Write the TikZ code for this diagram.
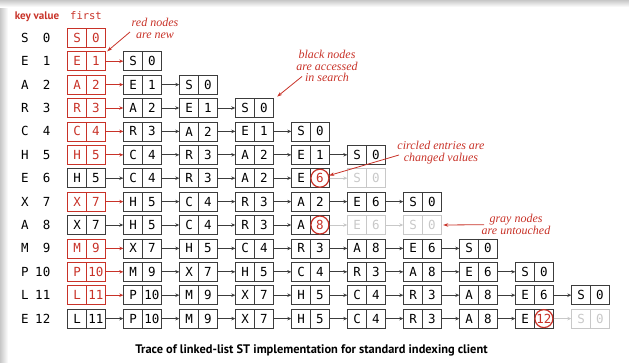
\documentclass[tikz,border=0pt]{standalone}
\usepackage{fontspec}
\usepackage{tikz}
\usetikzlibrary{arrows.meta}
\newfontfamily\boxfont{DejaVu Sans Mono}
\newfontfamily\capfont{PT Sans}
\newfontfamily\notefont{Liberation Serif}
\definecolor{sedred}{RGB}{200,50,40}
\definecolor{nodeblk}{RGB}{60,60,60}
\definecolor{nodegry}{RGB}{200,200,200}
\newcommand{\kv}[2]{\makebox[18.8pt]{#1}\makebox[18.8pt]{#2}}
\tikzset{
  lnode/.style={draw,line width=0.8pt,minimum width=37.6pt,minimum height=19pt,inner sep=0pt,
    font=\boxfont\fontsize{12.5}{14}\selectfont,
    path picture={\draw[line width=0.8pt] (path picture bounding box.north) -- (path picture bounding box.south);}},
  rednd/.style={lnode,color=sedred},
  blknd/.style={lnode,color=nodeblk,text=black},
  grynd/.style={lnode,color=nodegry},
  chg/.style={circle,draw=sedred,fill=white,text=sedred,line width=1.2pt,minimum size=18pt,inner sep=0pt,
    font=\boxfont\fontsize{12.5}{14}\selectfont},
  redarr/.style={draw=sedred,line width=0.8pt,-{Stealth[length=4pt,width=3.5pt]}},
  blkarr/.style={draw=nodeblk,line width=0.8pt,-{Stealth[length=4pt,width=3.5pt]}},
  gryarr/.style={draw=nodegry,line width=0.8pt,-{Stealth[length=4pt,width=3.5pt]}},
  notearr/.style={draw=sedred,line width=0.8pt,-{Stealth[length=5pt,width=3.5pt]}},
  note/.style={text=sedred,font=\notefont\itshape\fontsize{12}{11.8}\selectfont,align=center},
  keyt/.style={inner sep=0pt,font=\boxfont\fontsize{12.5}{14}\selectfont},
  valt/.style={keyt,anchor=east},
  hdr/.style={text=sedred,inner sep=0pt}
}

\begin{document}
\begin{tikzpicture}[x=1pt,y=-1pt]
\useasboundingbox (0,0) rectangle (629,362);
\shade[left color=black!22,right color=white] (0,0) rectangle (8,362);
\shade[top color=black!22,bottom color=white] (0,0) rectangle (629,7);

% headers
\node[hdr,font=\capfont\bfseries\fontsize{11}{12}\selectfont] (hkey) at (37,16.5) {key value};
\node[hdr,font=\boxfont\fontsize{10.5}{12}\selectfont] (hfirst) at (86,16) {first};

% row 0: S 0
\node[keyt] (k0) at (25,37.8) {S}; \node[valt] (v0) at (50.5,37.8) {0};
\node[rednd] (r0c0) at (86.5,37.8) {\kv{S}{0}};

% row 1: E 1
\node[keyt] (k1) at (25,61.2) {E}; \node[valt] (v1) at (50.5,61.2) {1};
\node[rednd] (r1c0) at (86.5,61.2) {\kv{E}{1}};
\node[blknd] (r1c1) at (142.5,61.2) {\kv{S}{0}};
\draw[redarr] (r1c0) -- (r1c1);

% row 2: A 2
\node[keyt] (k2) at (25,84.6) {A}; \node[valt] (v2) at (50.5,84.6) {2};
\node[rednd] (r2c0) at (86.5,84.6) {\kv{A}{2}};
\node[blknd] (r2c1) at (142.5,84.6) {\kv{E}{1}};
\node[blknd] (r2c2) at (198.5,84.6) {\kv{S}{0}};
\draw[redarr] (r2c0) -- (r2c1);
\draw[blkarr] (r2c1) -- (r2c2);

% row 3: R 3
\node[keyt] (k3) at (25,108) {R}; \node[valt] (v3) at (50.5,108) {3};
\node[rednd] (r3c0) at (86.5,108) {\kv{R}{3}};
\node[blknd] (r3c1) at (142.5,108) {\kv{A}{2}};
\node[blknd] (r3c2) at (198.5,108) {\kv{E}{1}};
\node[blknd] (r3c3) at (254.5,108) {\kv{S}{0}};
\draw[redarr] (r3c0) -- (r3c1);
\draw[blkarr] (r3c1) -- (r3c2);
\draw[blkarr] (r3c2) -- (r3c3);

% row 4: C 4
\node[keyt] (k4) at (25,131.4) {C}; \node[valt] (v4) at (50.5,131.4) {4};
\node[rednd] (r4c0) at (86.5,131.4) {\kv{C}{4}};
\node[blknd] (r4c1) at (142.5,131.4) {\kv{R}{3}};
\node[blknd] (r4c2) at (198.5,131.4) {\kv{A}{2}};
\node[blknd] (r4c3) at (254.5,131.4) {\kv{E}{1}};
\node[blknd] (r4c4) at (310.5,131.4) {\kv{S}{0}};
\draw[redarr] (r4c0) -- (r4c1);
\draw[blkarr] (r4c1) -- (r4c2);
\draw[blkarr] (r4c2) -- (r4c3);
\draw[blkarr] (r4c3) -- (r4c4);

% row 5: H 5
\node[keyt] (k5) at (25,154.8) {H}; \node[valt] (v5) at (50.5,154.8) {5};
\node[rednd] (r5c0) at (86.5,154.8) {\kv{H}{5}};
\node[blknd] (r5c1) at (142.5,154.8) {\kv{C}{4}};
\node[blknd] (r5c2) at (198.5,154.8) {\kv{R}{3}};
\node[blknd] (r5c3) at (254.5,154.8) {\kv{A}{2}};
\node[blknd] (r5c4) at (310.5,154.8) {\kv{E}{1}};
\node[blknd] (r5c5) at (366.5,154.8) {\kv{S}{0}};
\draw[redarr] (r5c0) -- (r5c1);
\draw[blkarr] (r5c1) -- (r5c2);
\draw[blkarr] (r5c2) -- (r5c3);
\draw[blkarr] (r5c3) -- (r5c4);
\draw[blkarr] (r5c4) -- (r5c5);

% row 6: E 6
\node[keyt] (k6) at (25,178.2) {E}; \node[valt] (v6) at (50.5,178.2) {6};
\node[blknd] (r6c0) at (86.5,178.2) {\kv{H}{5}};
\node[blknd] (r6c1) at (142.5,178.2) {\kv{C}{4}};
\node[blknd] (r6c2) at (198.5,178.2) {\kv{R}{3}};
\node[blknd] (r6c3) at (254.5,178.2) {\kv{A}{2}};
\node[blknd] (r6c4) at (310.5,178.2) {\kv{E}{}};
\node[grynd] (r6c5) at (366.5,178.2) {\kv{S}{0}};
\node[chg] (c6) at ([xshift=9.4pt]r6c4.center) {6};
\draw[blkarr] (r6c0) -- (r6c1);
\draw[blkarr] (r6c1) -- (r6c2);
\draw[blkarr] (r6c2) -- (r6c3);
\draw[blkarr] (r6c3) -- (r6c4);
\draw[gryarr] (r6c4) -- (r6c5);

% row 7: X 7
\node[keyt] (k7) at (25,201.6) {X}; \node[valt] (v7) at (50.5,201.6) {7};
\node[rednd] (r7c0) at (86.5,201.6) {\kv{X}{7}};
\node[blknd] (r7c1) at (142.5,201.6) {\kv{H}{5}};
\node[blknd] (r7c2) at (198.5,201.6) {\kv{C}{4}};
\node[blknd] (r7c3) at (254.5,201.6) {\kv{R}{3}};
\node[blknd] (r7c4) at (310.5,201.6) {\kv{A}{2}};
\node[blknd] (r7c5) at (366.5,201.6) {\kv{E}{6}};
\node[blknd] (r7c6) at (422.5,201.6) {\kv{S}{0}};
\draw[redarr] (r7c0) -- (r7c1);
\draw[blkarr] (r7c1) -- (r7c2);
\draw[blkarr] (r7c2) -- (r7c3);
\draw[blkarr] (r7c3) -- (r7c4);
\draw[blkarr] (r7c4) -- (r7c5);
\draw[blkarr] (r7c5) -- (r7c6);

% row 8: A 8
\node[keyt] (k8) at (25,225) {A}; \node[valt] (v8) at (50.5,225) {8};
\node[blknd] (r8c0) at (86.5,225) {\kv{X}{7}};
\node[blknd] (r8c1) at (142.5,225) {\kv{H}{5}};
\node[blknd] (r8c2) at (198.5,225) {\kv{C}{4}};
\node[blknd] (r8c3) at (254.5,225) {\kv{R}{3}};
\node[blknd] (r8c4) at (310.5,225) {\kv{A}{}};
\node[grynd] (r8c5) at (366.5,225) {\kv{E}{6}};
\node[grynd] (r8c6) at (422.5,225) {\kv{S}{0}};
\node[chg] (c8) at ([xshift=9.4pt]r8c4.center) {8};
\draw[blkarr] (r8c0) -- (r8c1);
\draw[blkarr] (r8c1) -- (r8c2);
\draw[blkarr] (r8c2) -- (r8c3);
\draw[blkarr] (r8c3) -- (r8c4);
\draw[gryarr] (r8c4) -- (r8c5);
\draw[gryarr] (r8c5) -- (r8c6);

% row 9: M 9
\node[keyt] (k9) at (25,248.4) {M}; \node[valt] (v9) at (50.5,248.4) {9};
\node[rednd] (r9c0) at (86.5,248.4) {\kv{M}{9}};
\node[blknd] (r9c1) at (142.5,248.4) {\kv{X}{7}};
\node[blknd] (r9c2) at (198.5,248.4) {\kv{H}{5}};
\node[blknd] (r9c3) at (254.5,248.4) {\kv{C}{4}};
\node[blknd] (r9c4) at (310.5,248.4) {\kv{R}{3}};
\node[blknd] (r9c5) at (366.5,248.4) {\kv{A}{8}};
\node[blknd] (r9c6) at (422.5,248.4) {\kv{E}{6}};
\node[blknd] (r9c7) at (478.5,248.4) {\kv{S}{0}};
\draw[redarr] (r9c0) -- (r9c1);
\draw[blkarr] (r9c1) -- (r9c2);
\draw[blkarr] (r9c2) -- (r9c3);
\draw[blkarr] (r9c3) -- (r9c4);
\draw[blkarr] (r9c4) -- (r9c5);
\draw[blkarr] (r9c5) -- (r9c6);
\draw[blkarr] (r9c6) -- (r9c7);

% row 10: P 10
\node[keyt] (k10) at (25,271.8) {P}; \node[valt] (v10) at (50.5,271.8) {10};
\node[rednd] (r10c0) at (86.5,271.8) {\kv{P}{10}};
\node[blknd] (r10c1) at (142.5,271.8) {\kv{M}{9}};
\node[blknd] (r10c2) at (198.5,271.8) {\kv{X}{7}};
\node[blknd] (r10c3) at (254.5,271.8) {\kv{H}{5}};
\node[blknd] (r10c4) at (310.5,271.8) {\kv{C}{4}};
\node[blknd] (r10c5) at (366.5,271.8) {\kv{R}{3}};
\node[blknd] (r10c6) at (422.5,271.8) {\kv{A}{8}};
\node[blknd] (r10c7) at (478.5,271.8) {\kv{E}{6}};
\node[blknd] (r10c8) at (534.5,271.8) {\kv{S}{0}};
\draw[redarr] (r10c0) -- (r10c1);
\draw[blkarr] (r10c1) -- (r10c2);
\draw[blkarr] (r10c2) -- (r10c3);
\draw[blkarr] (r10c3) -- (r10c4);
\draw[blkarr] (r10c4) -- (r10c5);
\draw[blkarr] (r10c5) -- (r10c6);
\draw[blkarr] (r10c6) -- (r10c7);
\draw[blkarr] (r10c7) -- (r10c8);

% row 11: L 11
\node[keyt] (k11) at (25,295.2) {L}; \node[valt] (v11) at (50.5,295.2) {11};
\node[rednd] (r11c0) at (86.5,295.2) {\kv{L}{11}};
\node[blknd] (r11c1) at (142.5,295.2) {\kv{P}{10}};
\node[blknd] (r11c2) at (198.5,295.2) {\kv{M}{9}};
\node[blknd] (r11c3) at (254.5,295.2) {\kv{X}{7}};
\node[blknd] (r11c4) at (310.5,295.2) {\kv{H}{5}};
\node[blknd] (r11c5) at (366.5,295.2) {\kv{C}{4}};
\node[blknd] (r11c6) at (422.5,295.2) {\kv{R}{3}};
\node[blknd] (r11c7) at (478.5,295.2) {\kv{A}{8}};
\node[blknd] (r11c8) at (534.5,295.2) {\kv{E}{6}};
\node[blknd] (r11c9) at (590.5,295.2) {\kv{S}{0}};
\draw[redarr] (r11c0) -- (r11c1);
\draw[blkarr] (r11c1) -- (r11c2);
\draw[blkarr] (r11c2) -- (r11c3);
\draw[blkarr] (r11c3) -- (r11c4);
\draw[blkarr] (r11c4) -- (r11c5);
\draw[blkarr] (r11c5) -- (r11c6);
\draw[blkarr] (r11c6) -- (r11c7);
\draw[blkarr] (r11c7) -- (r11c8);
\draw[blkarr] (r11c8) -- (r11c9);

% row 12: E 12
\node[keyt] (k12) at (25,318.6) {E}; \node[valt] (v12) at (50.5,318.6) {12};
\node[blknd] (r12c0) at (86.5,318.6) {\kv{L}{11}};
\node[blknd] (r12c1) at (142.5,318.6) {\kv{P}{10}};
\node[blknd] (r12c2) at (198.5,318.6) {\kv{M}{9}};
\node[blknd] (r12c3) at (254.5,318.6) {\kv{X}{7}};
\node[blknd] (r12c4) at (310.5,318.6) {\kv{H}{5}};
\node[blknd] (r12c5) at (366.5,318.6) {\kv{C}{4}};
\node[blknd] (r12c6) at (422.5,318.6) {\kv{R}{3}};
\node[blknd] (r12c7) at (478.5,318.6) {\kv{A}{8}};
\node[blknd] (r12c8) at (534.5,318.6) {\kv{E}{}};
\node[grynd] (r12c9) at (590.5,318.6) {\kv{S}{0}};
\node[chg] (c12) at ([xshift=9.4pt]r12c8.center) {12};
\draw[blkarr] (r12c0) -- (r12c1);
\draw[blkarr] (r12c1) -- (r12c2);
\draw[blkarr] (r12c2) -- (r12c3);
\draw[blkarr] (r12c3) -- (r12c4);
\draw[blkarr] (r12c4) -- (r12c5);
\draw[blkarr] (r12c5) -- (r12c6);
\draw[blkarr] (r12c6) -- (r12c7);
\draw[blkarr] (r12c7) -- (r12c8);
\draw[gryarr] (r12c8) -- (r12c9);

% notes
\node[note] (nnew) at (155,28.5) {red nodes\\are new};
\node[note] (nacc) at (327,66) {black nodes\\are accessed\\in search};
\node[note] (nchg) at (441,152.5) {circled entries are\\changed values};
\node[note] (nunt) at (516,224.6) {gray nodes\\are untouched};
\coordinate (pnew) at (130,32);
\coordinate (pacc) at (302,76.5);
\coordinate (pchg) at (399,155);
\coordinate (punt) at (484,224.7);
\draw[notearr] (pnew) -- ([xshift=1.5pt]r1c0.north east);
\draw[notearr] (pacc) -- ([xshift=3.5pt,yshift=1.5pt]r3c3.north east);
\draw[notearr] (pchg) -- (c6);
\draw[notearr] (punt) -- ([xshift=1.5pt]r8c6.east);

% caption
\node[font=\capfont\bfseries\fontsize{12.4}{14}\selectfont] (title) at (311.5,350) {Trace of linked-list ST implementation for standard indexing client};
\end{tikzpicture}
\end{document}
